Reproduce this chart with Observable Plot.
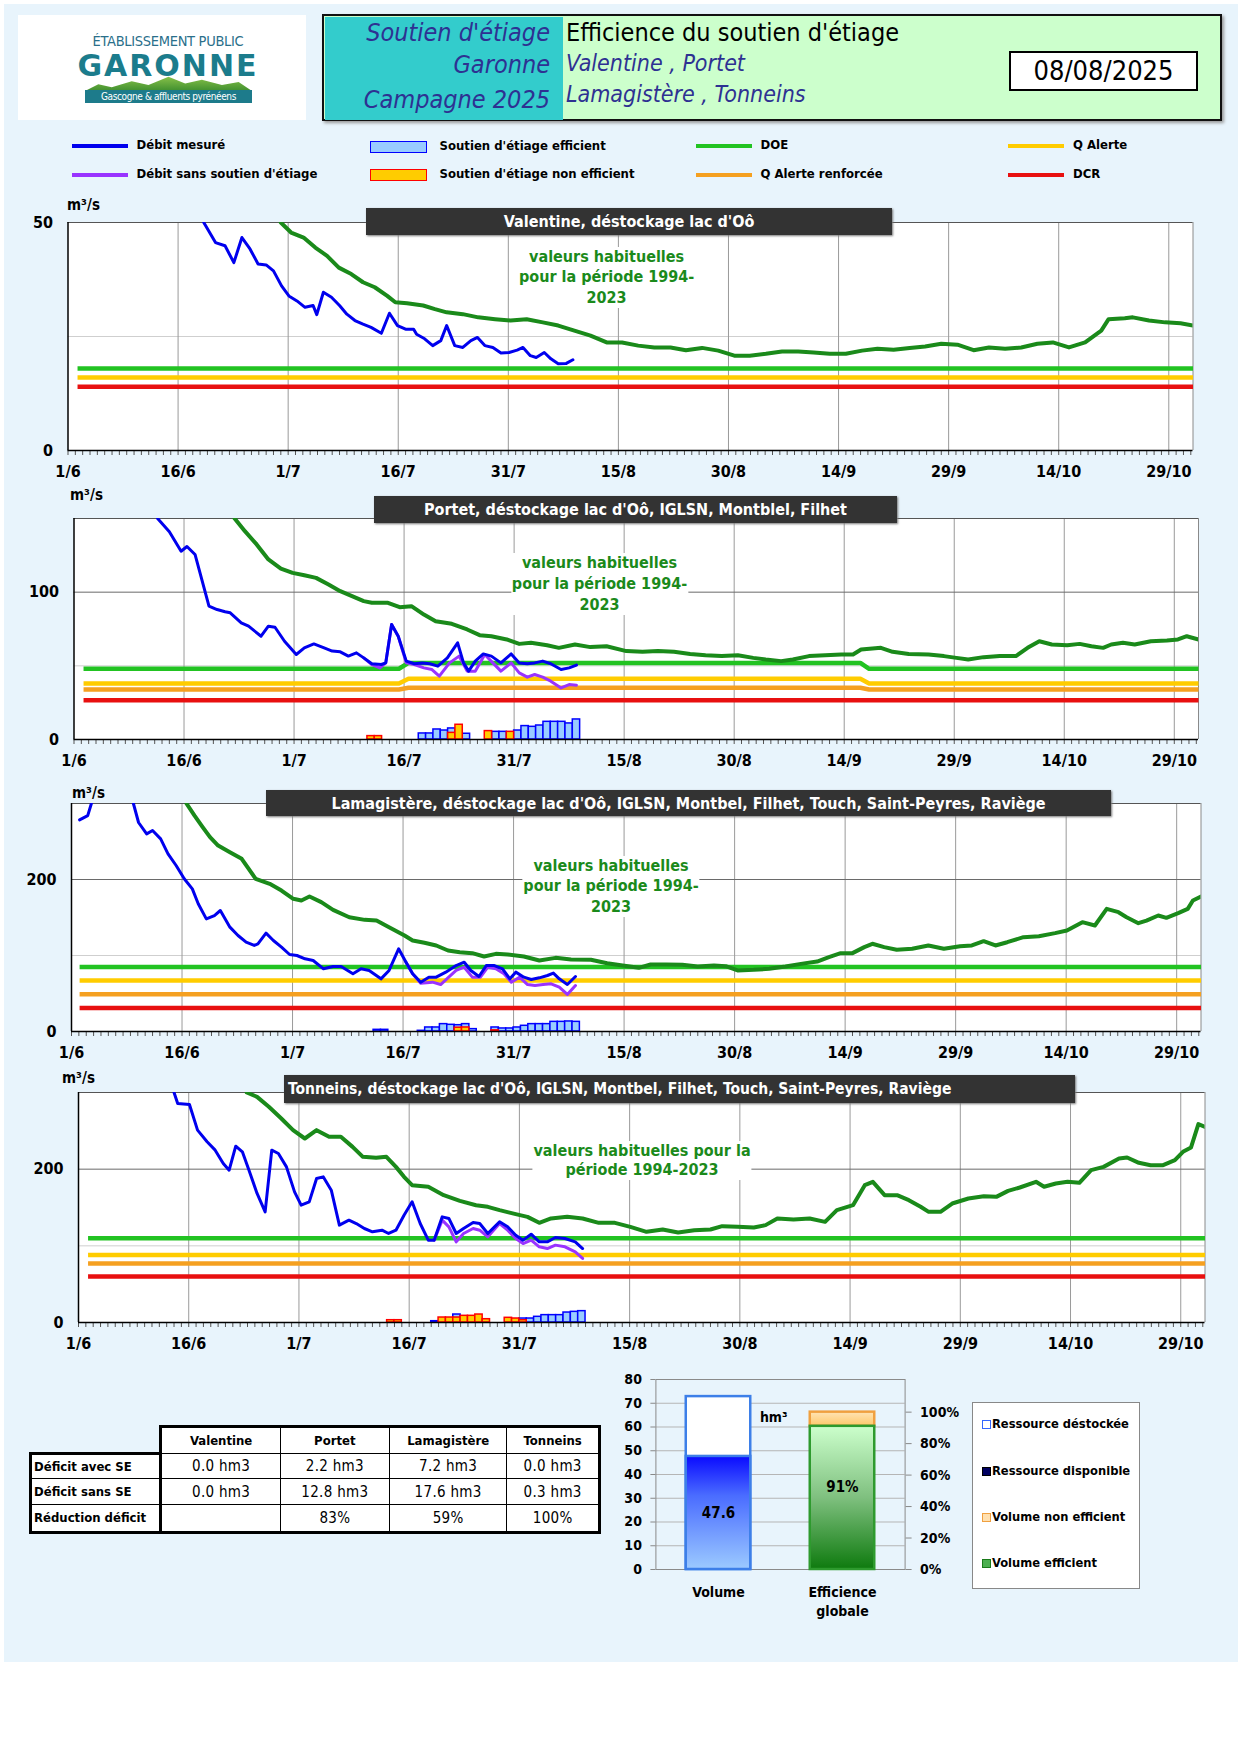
<!DOCTYPE html>
<html><head><meta charset="utf-8">
<script src="https://cdn.jsdelivr.net/npm/d3@7"></script>
<script src="https://cdn.jsdelivr.net/npm/@observablehq/plot@0.6"></script>
<style>
body{margin:0;background:#fff;}
#page{position:relative;width:1240px;height:1754px;overflow:hidden;font-family:"DejaVu Sans Condensed","DejaVu Sans",sans-serif;}
.abs{position:absolute;}
.lc text{font-family:"DejaVu Sans Condensed","DejaVu Sans",sans-serif;font-weight:bold;}
.ttl{position:absolute;background:#333;color:#fff;font-weight:bold;font-size:16px;display:flex;align-items:center;justify-content:center;box-shadow:1px 1px 2px #777;white-space:nowrap;}
.unit{position:absolute;font-weight:bold;font-size:15px;line-height:16px;}
.ann{position:absolute;background:#fff;color:#1b8a1b;font-weight:bold;font-size:16px;text-align:center;white-space:nowrap;transform:translateX(-50%);}
.lg{position:absolute;font-size:13px;font-weight:bold;line-height:14px;white-space:nowrap;}
table.tb{position:absolute;left:29px;top:1425px;border-collapse:collapse;table-layout:fixed;width:569px;font-family:"DejaVu Sans Condensed","DejaVu Sans",sans-serif;}
table.tb td{border:1.5px solid #000;padding:0;text-align:center;background:#fff;overflow:hidden;white-space:nowrap;}
</style></head>
<body><div id="page"></div>
<script>
// ---------------- DATA ----------------
const dayMax = 153.3;
const tickDays = [0,15,30,45,60,75,90,105,120,135,150];
const tickLabels = ["1/6","16/6","1/7","16/7","31/7","15/8","30/8","14/9","29/9","14/10","29/10"];

// Valentine
const valentineMesure = [[18.5,50],[20.1,45.6],[21.4,44.9],[22.6,41.2],[23.7,46.7],[24.8,44.2],[25.9,40.9],[27,40.7],[28,39.4],[29.1,36.1],[30.1,33.9],[31.2,32.8],[32.3,31.4],[33.4,31.8],[33.9,29.8],[34.8,34.7],[35.9,33.6],[37,31.8],[38,29.9],[39.1,28.5],[40.2,27.7],[41.3,27],[42.7,25.7],[43.8,30.1],[44.9,27.4],[46,26.6],[47.1,26.6],[47.5,25.5],[48.6,24.5],[49.7,23],[50.8,24.1],[51.6,27.4],[52.7,23],[53.8,22.6],[54.9,24.1],[55.8,24.8],[56.8,23],[57.9,22.6],[59,21.4],[60.1,21.5],[61.2,22],[62,22.6],[63,20.8],[63.8,20.4],[64.9,21.5],[65.8,20.1],[66.8,19],[67.9,19.1],[68.8,19.9]];
const valentineHabituel = [[29,50],[30.4,47.8],[32.1,46.7],[33.7,44.5],[35.3,42.7],[36.9,40.1],[38.6,38.7],[40.2,36.9],[41.8,35.8],[43.5,33.9],[44.6,32.5],[46.2,32.3],[48.4,31.8],[50,31],[51.6,30.3],[53.8,29.9],[55.9,29.2],[58.2,28.8],[60.3,28.5],[62.5,28.8],[64.7,28.1],[66.8,27.4],[69,26.3],[71.2,25.2],[73.4,23.7],[75.5,23.7],[77.7,23],[79.9,22.6],[82.1,22.6],[84.2,22],[86.4,22.5],[88.6,21.9],[90.8,20.8],[92.9,20.8],[95.1,21.2],[97.3,21.7],[99.5,21.7],[101.6,21.5],[103.8,21.2],[106,21.2],[108.2,21.9],[110.3,22.3],[112.5,22.1],[114.7,22.5],[116.8,22.8],[119,23.4],[121.2,23.2],[123.4,22],[125.5,22.6],[127.7,22.3],[129.9,22.6],[132.1,23.4],[134.2,23.7],[136.4,22.6],[138.6,23.7],[140.8,26.3],[141.8,28.8],[144,29],[145.1,29.2],[147.3,28.5],[149.5,28.1],[151.6,27.9],[153.3,27.4]];
const valentineDOE = [[1.3,18],[153.3,18]];
const valentineAlerte = [[1.3,16],[153.3,16]];
const valentineDCR = [[1.3,14],[153.3,14]];

// Portet
const portetMesure = [[11.4,150],[13,141],[14.6,127.8],[15.4,131],[16.5,125.6],[18.4,90.5],[19.5,88.2],[20.6,86.7],[21.3,86],[22.8,79.2],[23.8,76.9],[25.5,70.1],[26.5,76.9],[27.4,76.2],[28.7,66.7],[30.3,57.7],[31.4,62.2],[32.7,64.9],[34.1,62.2],[35.2,60],[36.3,59.5],[37.4,56.6],[38.5,58.8],[39.5,55.4],[40.6,51.4],[41.9,50.9],[42.5,52],[43.3,78],[44.2,70.1],[45.3,53.2],[46.4,51.4],[47.5,52],[48.5,51.4],[49.6,49.8],[50.9,55.4],[52.3,65.6],[53.1,52],[53.8,46.4],[54.7,53.2],[55.8,58.1],[56.9,56.6],[58.2,52],[59.6,58.1],[60.7,52],[61.8,51.4],[62.8,52],[63.9,53.2],[65,51.4],[66.4,47.5],[67.5,48.6],[68.5,50.5]];
const portetSans = [[39.5,55.4],[40.6,50.9],[41.7,48.6],[42.5,52],[43.3,78],[44.2,70.1],[45.3,52],[46.4,50.9],[47.7,48.6],[48.8,47.5],[49.8,43],[51.2,52],[52.5,56.6],[53.6,46.4],[54.7,46.4],[56,57.7],[57.1,52],[58.2,46.4],[59.6,52],[60.7,45.2],[61.8,42.3],[62.8,44.1],[63.9,42.3],[65,39.6],[66.4,35],[67.5,37.3],[68.5,36.9]];
const portetHabituel = [[21.9,150],[23.3,141.4],[24.9,132.4],[26.5,122.2],[28.2,116],[29.8,113.1],[31.4,111.5],[33,109.7],[34.7,105.2],[36.3,100.7],[37.9,97.3],[39.5,93.9],[40.6,92.8],[42.8,92.8],[44.4,89.8],[46,90.5],[47.7,84.8],[49.3,80.3],[51.5,78.5],[53.6,74.7],[55.3,70.8],[56.9,70.1],[59,67.9],[60.7,64.9],[62.3,65.6],[64.5,64],[66.1,62.2],[68.3,64.5],[70.4,62.7],[72.6,63.3],[75.3,60],[77.5,59.5],[79.6,60],[81.8,59.5],[84,58.1],[86.1,57.2],[88.3,56.6],[90.5,57.2],[92.6,55.4],[94.3,54.3],[96.4,53.2],[98,54.3],[100.2,56.6],[102.4,57.2],[104.6,57.7],[106.2,57.7],[107.3,61.1],[110,62.2],[111.6,59.5],[113.8,58.1],[116.5,57.7],[118.6,56.6],[120.3,55.4],[121.9,54.3],[124,55.9],[126.2,56.6],[128.4,56.6],[130,62.2],[131.6,66.7],[133.3,64.5],[135.4,64],[137.1,64.9],[138.7,63.3],[140.3,62.2],[141.4,64.5],[143,65.6],[144.6,64.5],[146.8,66.7],[149,67.2],[150.5,67.9],[151.7,70.1],[153.3,67.9]];
const portetDOE = [[1.3,48],[44.3,48],[45.6,52],[107.2,52],[108.4,48],[153.3,48]];
const portetAlerte = [[1.3,38],[44.3,38],[45.6,41.2],[107.2,41.2],[108.4,38],[153.3,38]];
const portetRenforcee = [[1.3,33.9],[44.3,33.9],[45.6,35.1],[107.2,35.1],[108.4,33.9],[153.3,33.9]];
const portetDCR = [[1.3,26.7],[153.3,26.7]];
const portetEfficient = [[47,4.1],[48,4.1],[49,6.8],[50,6.1],[51,7.5],[53,3.9],[57,5.2],[58,5.2],[60,6.1],[61,9.1],[62,8.6],[63,9.5],[64,12],[65,12],[66,12],[67,10.9],[68,13.6]];
const portetNonEfficient = [[40,2.3],[41,2.3],[51,4.5],[52,10],[56,5.7],[59,5.2]];

// Lamagistère
const lamagMesure = [[1.1,278.5],[2.2,284],[2.7,300],[5.5,NaN],[8.4,300],[9.1,275],[10.2,260],[11,264.5],[12.1,253.5],[13.1,233.8],[14.2,218.4],[15.3,200.9],[16.4,187.7],[17.2,168],[18.3,148.2],[19.4,152.6],[20.2,159.2],[21.5,137.3],[22.6,126.3],[23.7,117.5],[24.8,113.2],[25.3,115.4],[26.4,129.4],[27.4,119.7],[28.5,111],[29.6,101.3],[30.6,100],[31.7,95.6],[32.8,93.4],[34.2,82.5],[35.5,85.5],[36.6,85.5],[38.2,75.9],[39.3,82.5],[40.4,80.3],[42,69.3],[43.1,80.3],[44.4,108.8],[45.4,91.2],[46.3,75.9],[47.4,64.9],[48.5,71.5],[49.5,71.5],[50.8,78.1],[52.2,86.8],[53.3,91.2],[54.2,80.3],[55.3,72.4],[56.3,86.8],[57.4,86.8],[58.5,82.5],[59.5,69.3],[60.3,78.1],[61.4,71.5],[62.4,68.4],[63.5,70.6],[64.6,73.7],[65.4,76.8],[66.2,69.3],[67.3,61.8],[68.4,72.4]];
const lamagSans = [[45.4,91.2],[46.3,75.9],[47.4,63.6],[49,64.9],[50.1,61.8],[51.2,71.5],[52.2,80.3],[53.3,84.6],[54.4,71.5],[55.5,71.5],[56.5,84.6],[57.6,82.5],[58.7,75.9],[59.7,64.9],[60.8,71.5],[61.9,61.8],[62.9,60.5],[64,61.8],[65.1,62.7],[66.2,58.3],[67.3,48.7],[68.4,60.5]];
const lamagHabituel = [[15.6,300],[16.7,284],[17.8,268.9],[18.8,255.7],[19.9,244.7],[21.5,235.9],[23.1,227.2],[25,200.9],[26.9,194.3],[28.5,185.5],[30.1,174.6],[31.2,172.4],[32.3,177.6],[33.9,170.2],[35.5,160.1],[37.7,150.4],[39.8,146.9],[41.4,146],[43.1,137.3],[45.2,126.3],[46.3,119.7],[47.9,116.7],[49.5,113.2],[51.1,106.6],[52.7,104.4],[54.4,103.1],[56,98.7],[57.6,102.2],[59.2,101.3],[61.4,98.7],[63.5,93.4],[65.7,96.9],[67.8,94.7],[70.5,94.3],[72.7,89.9],[74.8,86.8],[77,83.8],[78.6,88.2],[80.7,88.2],[82.9,87.7],[85,85.5],[87.2,86.8],[88.8,86],[90.4,80.3],[92.6,81.1],[94.7,82.5],[96.9,85.5],[99,89],[101.2,92.1],[102.8,97.8],[104.4,103.1],[106,103.1],[107.6,111],[108.7,115.4],[110.3,111],[112,107.5],[114.1,108.8],[116.3,113.2],[118.4,108.8],[120.6,112.3],[122.2,113.2],[123.8,118.9],[125.4,113.2],[127,117.5],[129.2,124.1],[131.3,125.4],[133.5,129.4],[135.1,132.9],[137.2,143.9],[138.9,139.5],[140.5,161.4],[142.1,157],[143.2,150.4],[144.8,142.5],[145.9,146],[147.5,152.6],[148.6,149.6],[150.2,155.7],[151.5,161.4],[152.2,172.4],[153.3,177.6]];
const lamagDOE = [[1.1,85],[153.3,85]];
const lamagAlerte = [[1.1,67],[153.3,67]];
const lamagRenforcee = [[1.1,49],[153.3,49]];
const lamagDCR = [[1.1,31],[153.3,31]];
const lamagEfficient = [[41,2.2],[42,2.2],[47,0.9],[48,5.3],[49,5.3],[50,9.7],[51,8.8],[52,8.3],[53,9.7],[54,3.1],[57,5.3],[58,4],[59,4],[60,5.3],[61,7.5],[62,9.7],[63,9.7],[64,9.7],[65,12.7],[66,12.7],[67,13.2],[68,12.7]];
const lamagNonEfficient = [[52,5],[53,5.3],[57,1.5]];

// Tonneins
const tonnMesure = [[13,300],[13.5,285.7],[15.1,284.3],[16.2,250.9],[17.5,235.7],[18.6,224.8],[19.7,207.4],[20.5,198.7],[21.4,230],[22.3,222.6],[23.2,198.7],[24.3,168.3],[25.4,144.3],[26.3,224.8],[27.2,220.4],[28.3,203],[29.4,170.4],[30.3,153],[31.4,157.4],[32.4,187.8],[33.3,190],[34.4,172.6],[35.5,127],[36.8,133.5],[37.8,129.1],[38.9,122.6],[40,118.3],[41.3,120.4],[42.2,116.1],[43.2,120.4],[44.3,140],[45.4,157.4],[46.5,129.1],[47.6,107.4],[48.4,107.4],[49.5,137.8],[50.4,135.7],[51.4,116.1],[52.4,122.6],[53.7,130.4],[54.6,129.1],[55.7,116.1],[57.3,131.3],[58.4,124.8],[59.5,113.9],[60.5,107.4],[61.6,115.2],[62.7,105.2],[63.8,105.2],[64.9,110.9],[66.2,109.6],[67.6,105.2],[68.6,96.5]];
const tonnSans = [[48.4,107.4],[49.5,133.5],[50.4,124.8],[51.4,105.2],[52.4,116.1],[53.7,122.6],[54.6,120.4],[55.7,111.7],[57.3,129.1],[58.4,120.4],[59.5,109.6],[60.5,103],[61.6,107.4],[62.7,98.7],[63.8,96.5],[64.9,100.9],[66.2,98.7],[67.6,92.2],[68.6,83.5]];
const tonnHabituel = [[22.9,300],[24.3,294.3],[25.9,281.3],[27.6,266.1],[29.2,250.9],[30.8,240],[32.4,250.9],[34.1,242.2],[35.7,242.2],[37.3,229.1],[38.7,216.1],[40.5,214.8],[41.9,216.1],[43.2,203],[44.3,190],[45.4,179.1],[47.6,177],[49.7,166.1],[51.9,158.7],[54.1,153],[55.7,150.9],[57.3,146.5],[59.5,141.3],[61.1,137.8],[62.7,130],[64.3,135.7],[66.5,137.8],[68.6,135.7],[70.8,130],[73,130],[75.1,124.8],[77.3,118.3],[79.5,121.3],[81.6,117.4],[83.8,120.4],[86,121.3],[87.6,125.7],[89.7,124.8],[91.9,123.9],[93.5,127],[95.1,135.7],[97.3,134.3],[99.5,135.7],[101.6,131.3],[103.2,146.5],[105.4,153],[107,179.1],[108.1,183.5],[109.7,166.1],[111.4,166.1],[113,159.6],[114.6,150.9],[115.7,144.3],[117.3,144.3],[118.9,155.2],[121.1,161.7],[123.2,164.8],[124.9,163.9],[126.5,171.7],[128.1,176.1],[130.3,183.5],[131.4,177],[133,181.3],[134.6,183.5],[136.2,182.2],[137.8,198.7],[139.5,203],[141.6,213.9],[142.7,215.2],[144.3,208.3],[145.9,205.2],[147.6,205.2],[149.2,211.7],[150.3,222.6],[151.4,228.3],[152.4,258.7],[153.3,255.2]];
const tonnDOE = [[1.3,110],[153.3,110]];
const tonnAlerte = [[1.3,88],[153.3,88]];
const tonnRenforcee = [[1.3,77],[153.3,77]];
const tonnDCR = [[1.3,60],[153.3,60]];
const tonnEfficient = [[48,1.7],[51,10.4],[60,5.2],[61,5.2],[62,7.4],[63,9.6],[64,9.6],[65,9.6],[66,13],[67,13.9],[68,14.8]];
const tonnNonEfficient = [[42,3],[43,3],[49,6.5],[50,6.5],[51,6.5],[52,8.7],[53,8.7],[54,10.4],[55,4.3],[58,6.1],[59,5.2],[60,3]];

// Tableau
const tableStations = ["Valentine","Portet","Lamagistère","Tonneins"];
const deficitAvec = ["0.0 hm3","2.2 hm3","7.2 hm3","0.0 hm3"];
const deficitSans = ["0.0 hm3","12.8 hm3","17.6 hm3","0.3 hm3"];
const reductionDeficit = ["","83%","59%","100%"];

// Volumes
const volCategories = ["Volume","Efficience globale"];
const ressourceDisponible = 72.8;
const ressourceDestockee = 47.6;
const volumeEfficientPct = 91;
const volumeTotalPct = 100;
const pctAxisMax = 120.75;

// ---------------- LAYOUT HELPERS ----------------
const page = document.getElementById("page");
function div(cls, html, css) {
  const e = document.createElement("div");
  if (cls) e.className = cls;
  e.innerHTML = html;
  e.style.cssText = (cls ? "" : "position:absolute;") + css;
  page.appendChild(e);
  return e;
}
// background
div("", "", "left:4px;top:4px;width:1234px;height:1658px;background:#e8f4fc;");

// ---------------- HEADER ----------------
div("", "", "left:18px;top:15px;width:288px;height:105px;background:#fff;");
div("", "ÉTABLISSEMENT PUBLIC", "left:18px;top:33px;width:300px;text-align:center;font-size:14.5px;color:#2a6f8a;letter-spacing:-0.3px;");
div("", "GARONNE", "left:18px;top:48px;width:300px;text-align:center;font-size:30px;font-weight:bold;color:#1b7c8c;letter-spacing:2px;font-family:'DejaVu Sans',sans-serif;");
div("", "", "left:85px;top:76px;width:167px;height:15px;background:linear-gradient(#8bc34a,#3f8f2f);clip-path:polygon(0% 100%,8% 55%,16% 75%,28% 35%,38% 60%,50% 5%,60% 50%,70% 25%,82% 60%,92% 40%,100% 100%);");
div("", "Gascogne &amp; affluents pyrénéens", "left:85px;top:90px;width:167px;height:13px;background:#1d7b8b;color:#fff;font-size:10px;line-height:13px;text-align:center;letter-spacing:-0.4px;");

div("", "", "left:322px;top:14px;width:896px;height:103px;border:2.5px solid #111;background:#ccffcc;box-shadow:2px 2px 3px #999;");
div("", "", "left:324.5px;top:16.5px;width:238px;height:103px;background:#33cccc;");
const hl = "font-style:italic;color:#2e3192;font-size:25px;white-space:nowrap;";
div("", "Soutien d'étiage", `left:322px;top:18px;width:228px;text-align:right;${hl}`);
div("", "Garonne", `left:322px;top:50px;width:228px;text-align:right;${hl}`);
div("", "Campagne 2025", `left:322px;top:85px;width:228px;text-align:right;${hl}`);
div("", "Efficience du soutien d'étiage", "left:566px;top:18px;font-size:25px;color:#000;white-space:nowrap;");
div("", "Valentine , Portet", `left:566px;top:50px;${hl}font-size:23px;`);
div("", "Lamagistère , Tonneins", `left:566px;top:81px;${hl}font-size:23px;`);
div("", "08/08/2025", "left:1009px;top:51px;width:185px;height:36px;border:2px solid #000;background:#fff;font-size:27px;line-height:36px;text-align:center;");

// ---------------- LEGEND ----------------
function legLine(x, y, color, label) {
  div("", "", `left:${x}px;top:${y-2}px;width:56px;height:4px;background:${color};`);
  div("lg", label, `left:${x+65}px;top:${y-8}px;`);
}
function legRect(x, y, fill, stroke, label) {
  div("", "", `left:${x}px;top:${y-6}px;width:55px;height:10px;background:${fill};border:1.5px solid ${stroke};`);
  div("lg", label, `left:${x+70}px;top:${y-8}px;`);
}
legLine(71.5, 146, "#0000ee", "Débit mesuré");
legLine(71.5, 175, "#9933ff", "Débit sans soutien d'étiage");
legRect(369.5, 147, "#99ccff", "#0000ff", "Soutien d'étiage efficient");
legRect(369.5, 175, "#ffcc00", "#ff0000", "Soutien d'étiage non efficient");
legLine(695.5, 146, "#22c322", "DOE");
legLine(695.5, 175, "#f5a020", "Q Alerte renforcée");
legLine(1008, 146, "#ffcc00", "Q Alerte");
legLine(1008, 175, "#e81010", "DCR");

// ---------------- LINE CHARTS ----------------
const labelOf = new Map(tickDays.map((d, i) => [d, tickLabels[i]]));
const allDays = d3.range(0, 154);
const pt = {x: d => d[0], y: d => d[1]};

function lineChart(c) {
  const mT = 6, mB = 42;
  const h = Math.round(c.bottom - c.top) + mT + mB;
  const thr = (data, color) => Plot.line(data, {...pt, stroke: color, strokeWidth: 4.5, strokeLinecap: "butt"});
  const svg = Plot.plot({
    width: 1240, height: h,
    marginLeft: c.left, marginRight: 1240 - c.right, marginTop: mT, marginBottom: mB,
    className: "lc",
    style: {background: "transparent", overflow: "visible"},
    x: {domain: [0, dayMax], label: null},
    y: {domain: [0, c.yMax], label: null},
    marks: [
      Plot.frame({fill: "white", stroke: null}),
      Plot.ruleY(c.yMinor, {stroke: "#cfcfcf", strokeWidth: 1}),
      Plot.ruleX(tickDays.slice(1), {stroke: "#9a9a9a", strokeWidth: 1}),
      Plot.ruleX([dayMax], {stroke: "#8a8a8a", strokeWidth: 1}),
      Plot.ruleY(c.yMajor, {stroke: "#6a6a6a", strokeWidth: 1}),
      Plot.ruleY([c.yMax], {stroke: "#555", strokeWidth: 1.2}),
      thr(c.dcr, "#e81010"),
      thr(c.renforcee, "#f5a020"),
      thr(c.alerte, "#ffcc00"),
      thr(c.doe, "#22c322"),
      Plot.rect(c.eff, {x1: d => d[0], x2: d => d[0] + 1, y1: 0, y2: d => d[1], fill: "#99ccff", stroke: "#0000ff", strokeWidth: 1.5}),
      Plot.rect(c.noneff, {x1: d => d[0], x2: d => d[0] + 1, y1: 0, y2: d => d[1], fill: "#ffcc00", stroke: "#ff0000", strokeWidth: 1.5}),
      Plot.line(c.habituel, {...pt, stroke: "#1a8a1a", strokeWidth: 4, clip: true}),
      Plot.line(c.sans, {...pt, stroke: "#9933ff", strokeWidth: 3, clip: true}),
      Plot.line(c.mesure, {...pt, stroke: "#0000ee", strokeWidth: 3, clip: true}),
      Plot.axisX({ticks: allDays, tickSize: 5, tickFormat: () => "", stroke: "#555", label: null}),
      Plot.axisX({ticks: tickDays, tickSize: 0, tickPadding: 15, tickFormat: d => labelOf.get(d), fontSize: 16, fontWeight: "bold", fill: "#000", label: null}),
      Plot.axisY({ticks: c.yLabels, tickSize: 0, tickPadding: 15, fontSize: 16, fontWeight: "bold", fill: "#000", label: null}),
      Plot.ruleX([0], {stroke: "#000", strokeWidth: 1.5}),
      Plot.ruleY([0], {stroke: "#000", strokeWidth: 1.5})
    ]
  });
  svg.style.position = "absolute";
  svg.style.left = "0px";
  svg.style.top = (c.top - mT) + "px";
  page.appendChild(svg);
  div("ttl", c.title, `left:${c.tb[0]}px;top:${c.tb[1]}px;width:${c.tb[2]-c.tb[0]}px;height:${c.tb[3]-c.tb[1]}px;font-size:${c.tfs}px;` + (c.tleft ? "justify-content:flex-start;padding-left:4px;box-sizing:border-box;" : ""));
  div("unit", "m³/s", `left:${c.unit[0]}px;top:${c.unit[1]-8}px;`);
  div("ann", c.ann, `left:${c.annPos[0]}px;top:${c.annPos[1]}px;line-height:${c.annLH}px;padding:0 1px;`);
}

lineChart({left: 67.5, right: 1192.5, top: 221.7, bottom: 450, yMax: 50, yLabels: [0, 50], yMinor: [25], yMajor: [],
  mesure: valentineMesure, sans: [], habituel: valentineHabituel, doe: valentineDOE, alerte: valentineAlerte, renforcee: [], dcr: valentineDCR, eff: [], noneff: [],
  title: "Valentine, déstockage lac d'Oô", tb: [366, 208, 892, 235], tfs: 16, unit: [67, 205],
  ann: "valeurs habituelles<br>pour la période 1994-<br>2023", annPos: [606.6, 246.5], annLH: 20.5});

lineChart({left: 73.5, right: 1198, top: 517.7, bottom: 738.3, yMax: 150, yLabels: [0, 100], yMinor: [50], yMajor: [100],
  mesure: portetMesure, sans: portetSans, habituel: portetHabituel, doe: portetDOE, alerte: portetAlerte, renforcee: portetRenforcee, dcr: portetDCR, eff: portetEfficient, noneff: portetNonEfficient,
  title: "Portet, déstockage lac d'Oô, IGLSN, Montblel, Filhet", tb: [374, 496, 897, 523], tfs: 16, unit: [70, 495],
  ann: "valeurs habituelles<br>pour la période 1994-<br>2023", annPos: [599.5, 553], annLH: 20.8});

lineChart({left: 71, right: 1200.5, top: 803.3, bottom: 1031, yMax: 300, yLabels: [0, 200], yMinor: [100], yMajor: [200],
  mesure: lamagMesure, sans: lamagSans, habituel: lamagHabituel, doe: lamagDOE, alerte: lamagAlerte, renforcee: lamagRenforcee, dcr: lamagDCR, eff: lamagEfficient, noneff: lamagNonEfficient,
  title: "Lamagistère, déstockage lac d'Oô, IGLSN, Montbel, Filhet, Touch, Saint-Peyres, Raviège", tb: [266, 790, 1111, 816], tfs: 16, unit: [72, 793],
  ann: "valeurs habituelles<br>pour la période 1994-<br>2023", annPos: [611, 855.7], annLH: 20.6});

lineChart({left: 78, right: 1204.5, top: 1092.3, bottom: 1322.3, yMax: 300, yLabels: [0, 200], yMinor: [100], yMajor: [200],
  mesure: tonnMesure, sans: tonnSans, habituel: tonnHabituel, doe: tonnDOE, alerte: tonnAlerte, renforcee: tonnRenforcee, dcr: tonnDCR, eff: tonnEfficient, noneff: tonnNonEfficient,
  title: "Tonneins, déstockage lac d'Oô, IGLSN, Montbel, Filhet, Touch, Saint-Peyres, Raviège", tb: [284, 1075, 1075, 1103], tfs: 15.5, tleft: true, unit: [62, 1078],
  ann: "valeurs habituelles pour la<br>période 1994-2023", annPos: [642, 1140.5], annLH: 19.5});

// ---------------- TABLE ----------------
(function () {
  const colW = [130.4, 119.4, 109.1, 117.5, 92.6];
  const rowH = [26.7, 25.6, 26, 27.4];
  const tbl = document.createElement("table");
  tbl.className = "tb";
  const cg = document.createElement("colgroup");
  colW.forEach(w => { const col = document.createElement("col"); col.style.width = w + "px"; cg.appendChild(col); });
  tbl.appendChild(cg);
  const rows = [["", ...tableStations], ["Déficit avec SE", ...deficitAvec], ["Déficit sans SE", ...deficitSans], ["Réduction déficit", ...reductionDeficit]];
  rows.forEach((r, i) => {
    const tr = document.createElement("tr");
    tr.style.height = rowH[i] + "px";
    r.forEach((v, j) => {
      const td = document.createElement("td");
      td.textContent = v;
      if (i === 0) { td.style.fontWeight = "bold"; td.style.fontSize = "13px"; td.style.borderTop = "3px solid #000"; }
      else if (j === 0) { td.style.fontWeight = "bold"; td.style.fontSize = "13px"; td.style.textAlign = "left"; td.style.paddingLeft = "2px"; td.style.borderLeft = "3px solid #000"; }
      else { td.style.fontSize = "15px"; td.style.letterSpacing = "0.3px"; }
      if (i === 0 && j === 0) { td.style.border = "none"; td.style.background = "transparent"; }
      if (i === 1 && j === 0) td.style.borderTop = "3px solid #000";
      if (i === 0 && j === 1) td.style.borderLeft = "3px solid #000";
      if (j === 0 && i > 0) td.style.borderRight = "3px solid #000";
      if (j === r.length - 1) td.style.borderRight = "3px solid #000";
      if (i === rows.length - 1) td.style.borderBottom = "3px solid #000";
      tr.appendChild(td);
    });
    tbl.appendChild(tr);
  });
  page.appendChild(tbl);
})();

// ---------------- VOLUME CHART ----------------
(function () {
  const k = 80 / pctAxisMax;
  const bw = 29.75;
  const svg = Plot.plot({
    width: 430, height: 250,
    marginLeft: 95.4, marginRight: 85.4, marginTop: 9, marginBottom: 51,
    className: "lc",
    style: {background: "transparent", overflow: "visible"},
    x: {type: "band", domain: volCategories, padding: 0, label: null},
    y: {domain: [0, 80], label: null},
    marks: [
      Plot.ruleY(d3.range(10, 80, 10), {stroke: "#b5b5b5", strokeWidth: 1}),
      Plot.frame({stroke: "#8a8a8a"}),
      Plot.barY([{c: volCategories[0], v: ressourceDisponible}], {x: "c", y: "v", fill: "#fff", stroke: "#3d7fe8", strokeWidth: 2.5, insetLeft: bw, insetRight: bw}),
      Plot.barY([{c: volCategories[0], v: ressourceDestockee}], {x: "c", y: "v", fill: "url(#gBlue)", stroke: "#3d7fe8", strokeWidth: 2.5, insetLeft: bw, insetRight: bw}),
      Plot.rectY([{c: volCategories[1], a: volumeEfficientPct * k, b: volumeTotalPct * k}], {x: "c", y1: "a", y2: "b", fill: "url(#gOrange)", stroke: "#f0a040", strokeWidth: 2.5, insetLeft: bw, insetRight: bw}),
      Plot.rectY([{c: volCategories[1], a: 0, b: volumeEfficientPct * k}], {x: "c", y1: "a", y2: "b", fill: "url(#gGreen)", stroke: "#2e9a2e", strokeWidth: 2.5, insetLeft: bw, insetRight: bw}),
      Plot.text([{c: volCategories[0], v: ressourceDestockee}], {x: "c", y: d => d.v / 2, text: d => d.v.toFixed(1), fontSize: 15, fontWeight: "bold", fill: "#000"}),
      Plot.text([{c: volCategories[1], v: volumeEfficientPct}], {x: "c", y: d => d.v * k / 2, dy: -11, text: d => d.v + "%", fontSize: 15, fontWeight: "bold", fill: "#000"}),
      Plot.text(["hm³"], {frameAnchor: "top-left", dx: 104, dy: 32.7, text: d => d, fontSize: 14, fontWeight: "bold", fill: "#000"}),
      Plot.axisY({ticks: d3.range(0, 81, 10), tickSize: 5, tickPadding: 9, fontSize: 14, fontWeight: "bold", fill: "#000", stroke: "#888", label: null}),
      Plot.axisY({anchor: "right", ticks: [0, 20, 40, 60, 80, 100].map(p => p * k), tickSize: 6, tickPadding: 9, tickFormat: v => Math.round(v / k) + "%", fontSize: 14, fontWeight: "bold", fill: "#000", stroke: "#888", label: null}),
      Plot.axisX({tickSize: 0, tickPadding: 14, tickFormat: d => d === "Efficience globale" ? "Efficience\nglobale" : d, fontSize: 14, fontWeight: "bold", fill: "#000", lineHeight: 1.35, label: null})
    ]
  });
  const defs = d3.select(svg).insert("defs", ":first-child");
  const grad = (id, stops) => {
    const g = defs.append("linearGradient").attr("id", id).attr("x1", 0).attr("y1", 0).attr("x2", 0).attr("y2", 1);
    stops.forEach(([o, c]) => g.append("stop").attr("offset", o).attr("stop-color", c));
  };
  grad("gBlue", [[0, "#0a0aff"], [0.35, "#4a6cff"], [1, "#9ccaff"]]);
  grad("gGreen", [[0, "#ccffcc"], [0.5, "#7fc07f"], [1, "#0e7a0e"]]);
  grad("gOrange", [[0, "#ffe4b5"], [1, "#ffc86a"]]);
  svg.style.position = "absolute";
  svg.style.left = "560px";
  svg.style.top = "1370px";
  page.appendChild(svg);

  div("", "", "left:972px;top:1402px;width:166px;height:185px;background:#fff;border:1.2px solid #888;");
  const items = [["Ressource déstockée", "#fff", "#3366ff", 1425], ["Ressource disponible", "#000060", "#000", 1471.7], ["Volume non efficient", "#ffe0b0", "#f0a040", 1517.7], ["Volume efficient", "#4caf50", "#1a7a1a", 1564]];
  items.forEach(([l, f, s, y]) => {
    div("", "", `left:982px;top:${y-5}px;width:7px;height:7px;background:${f};border:1.5px solid ${s};`);
    div("lg", l, `left:992px;top:${y-8}px;font-size:12.8px;`);
  });
})();
</script>
</body></html>
